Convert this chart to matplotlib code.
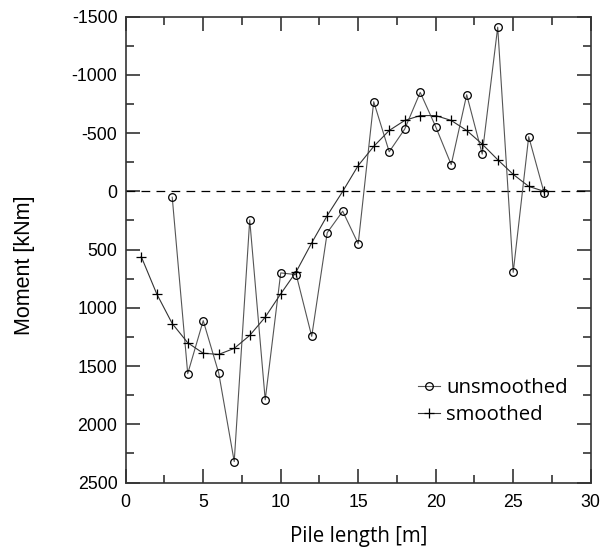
import numpy as np
from matplotlib import pyplot as plt

# Data
x_raw = [3, 4, 5, 6, 7, 8, 9, 10, 11, 12, 13, 14, 15, 16, 17, 18, 19, 20,
         21, 22, 23, 24, 25, 26, 27]
m_raw = [50, 1565, 1110, 1560, 2320, 245, 1790, 700, 715, 1245, 355, 170,
         450, -770, -340, -535, -850, -555, -230, -830, -320, -1410, 695,
         -470, 15]

x_smooth = list(range(1, 28))
m_smooth = [560, 880, 1135, 1300, 1390, 1400, 1348, 1237, 1080, 880, 690,
            442, 208, 0, -222, -386, -523, -609, -651, -651, -609, -523,
            -406, -272, -146, -43, 0]

plt.rcParams['font.family'] = ['Liberation Sans', 'DejaVu Sans']
plt.rcParams['axes.unicode_minus'] = False

fig = plt.figure(figsize=(6.03, 5.51), dpi=100)
ax = fig.add_axes([0.2085, 0.1243, 0.7711, 0.8454])

ax.axhline(0, color='black', lw=0.9, ls=(0, (7, 5)))

ax.plot(x_raw, m_raw, color='#555555', lw=0.8, marker='o', ms=5.5,
        mfc='none', mec='black', mew=0.9, label='unsmoothed')
ax.plot(x_smooth, m_smooth, color='#333333', lw=0.8, marker='+', ms=6.5,
        mec='black', mew=0.9, label='smoothed')

ax.set_xlim(0, 30)
ax.set_ylim(2500, -1500)
ax.set_xticks(np.arange(0, 31, 5))
ax.set_xticks(np.arange(0, 31, 2.5), minor=True)
ax.set_yticks(np.arange(-1500, 2501, 500))
ax.set_yticks(np.arange(-1500, 2501, 250), minor=True)

ax.tick_params(which='both', direction='in', top=True, right=True,
               color='#333333', width=1.2)
ax.tick_params(which='major', length=10, labelsize=12.8)
ax.tick_params(which='minor', length=6)
ax.tick_params(axis='x', pad=8)
ax.tick_params(axis='y', pad=6)
for s in ax.spines.values():
    s.set_color('#333333')
    s.set_linewidth(1.2)

ax.set_xlabel('Pile length [m]', family=['Open Sans', 'DejaVu Sans'],
              fontsize=14.8, labelpad=11)
ax.set_ylabel('Moment [kNm]', fontsize=15.5)
ax.yaxis.set_label_coords(-0.195, 0.467)

ax.legend(loc='center left', bbox_to_anchor=(0.588, 0.174), frameon=False,
          prop={'family': ['Open Sans', 'DejaVu Sans'], 'size': 14.7},
          handlelength=1.1, handletextpad=0.3, labelspacing=0.35)

fig.savefig('out.png', dpi=100)
